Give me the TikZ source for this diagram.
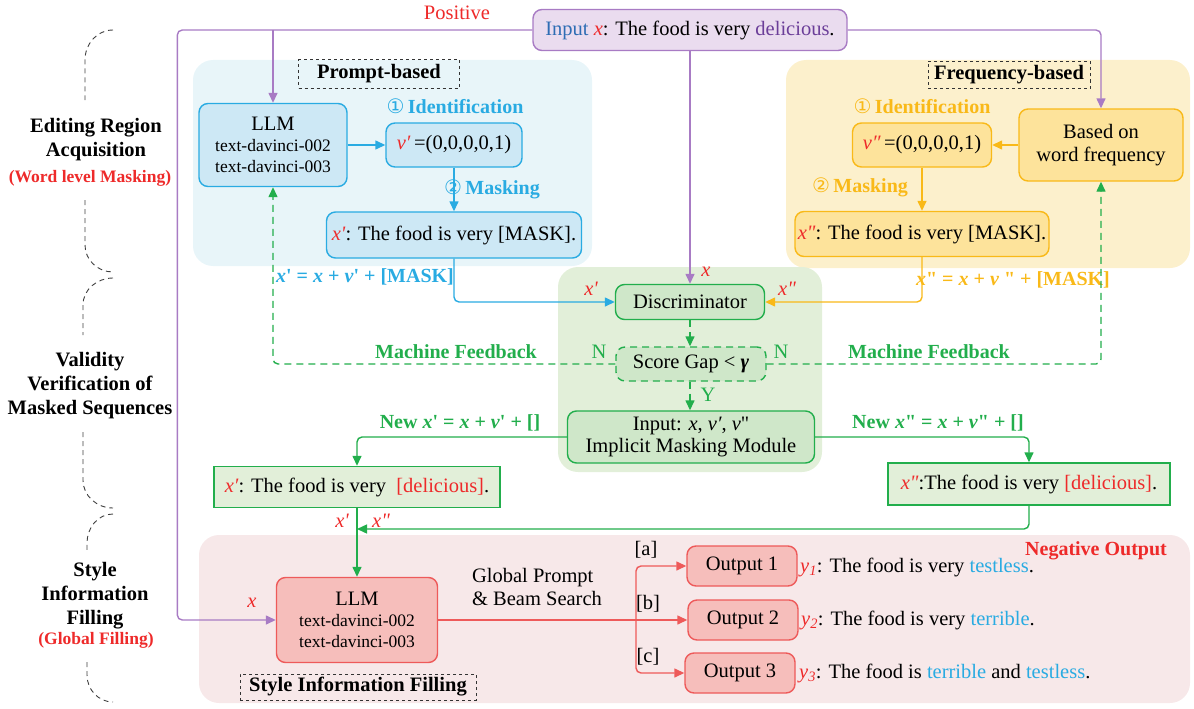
\documentclass[tikz,border=0pt]{standalone}
\usepackage{fontspec}
\setmainfont{Liberation Serif}
\newfontfamily\symfont{DejaVu Sans}
\usetikzlibrary{arrows.meta,positioning}

\definecolor{lpurple}{HTML}{A87BC4}
\definecolor{lpurplefill}{HTML}{EADCEF}
\definecolor{lblue}{HTML}{29ABE2}
\definecolor{lbluefill}{HTML}{CDE8F5}
\definecolor{lblueregion}{HTML}{E8F5F9}
\definecolor{lyellow}{HTML}{F9B918}
\definecolor{lyellowfill}{HTML}{FDE39B}
\definecolor{lyellowregion}{HTML}{FCF0CC}
\definecolor{lgreen}{HTML}{22AE4C}
\definecolor{lgreenfill}{HTML}{CFE7C9}
\definecolor{lgreenregion}{HTML}{E2EFD9}
\definecolor{lred}{HTML}{EE5A5A}
\definecolor{lredfill}{HTML}{F6BEBB}
\definecolor{lredregion}{HTML}{F7E8E9}
\definecolor{txtred}{HTML}{EE2A2A}
\definecolor{txtpurple}{HTML}{6B3E99}
\definecolor{txtblue}{HTML}{2E6DB4}

\newcommand{\xr}[1]{\textcolor{txtred}{\textit{#1}}}
\newcommand{\hl}[1]{\textcolor{lblue}{#1}}
\newcommand{\sq}{\textquotesingle}
\newcommand{\dq}{\textquotedbl}

\begin{document}
\begin{tikzpicture}[x=1pt,y=-1pt, font=\fontsize{20.5}{23}\selectfont,
			rbox/.style={rounded corners=9pt, line width=1.4pt, align=center, inner sep=0pt},
			sbox/.style={line width=1.4pt, align=center, inner sep=0pt},
			tagbox/.style={draw=black!80, dashed, line width=1pt, font=\fontsize{20.5}{23}\selectfont\bfseries, inner sep=0pt},
			conn/.style={line width=1.4pt, rounded corners=5pt},
			tip/.style={-{Triangle[length=10pt,width=9pt]}},
			fb/.style={conn, lgreen, dash pattern=on 7pt off 5pt},
			lbl/.style={font=\fontsize{20}{23}\selectfont\bfseries},
			var/.style={txtred, font=\fontsize{20.5}{23}\selectfont\itshape},
			side/.style={font=\fontsize{20.5}{24}\selectfont\bfseries, align=center},
			sidesub/.style={txtred, font=\fontsize{17.5}{20}\selectfont\bfseries},
			brace/.style={black!75, dash pattern=on 5pt off 4pt, line width=0.9pt}]
			\useasboundingbox (0,0) rectangle (1194,709);

			% regions
			\fill[lblueregion, rounded corners=20pt] (193,60) rectangle (592,266);
			\fill[lyellowregion, rounded corners=20pt] (786,60) rectangle (1190,268);
			\fill[lgreenregion, rounded corners=20pt] (558,267) rectangle (822,472);
			\fill[lredregion, rounded corners=20pt] (199,535) rectangle (1190,703);

			% side labels
			\node[side] (sideA) at (96,140) {Editing Region\\Acquisition};
			\node[sidesub] (sideAsub) at (90,178) {(Word level Masking)};
			\node[side] (sideB) at (90,386) {Validity\\Verification of\\Masked Sequences};
			\node[side] (sideC) at (95,596) {Style\\Information\\Filling};
			\node[sidesub] (sideCsub) at (96,640) {(Global Filling)};
			\draw[brace] (113,30) to[out=180,in=90] (85,60) -- (85,100);
			\draw[brace] (85,200) -- (85,245) to[out=-90,in=180] (113,272);
			\draw[brace] (113,278) to[out=180,in=90] (83,305) -- (83,335);
			\draw[brace] (83,432) -- (83,480) to[out=-90,in=180] (113,508);
			\draw[brace] (113,514) to[out=180,in=90] (87,543) -- (87,550);
			\draw[brace] (87,662) -- (87,675) to[out=-90,in=180] (113,702);

			% input
			\node[rbox, draw=lpurple, fill=lpurplefill, minimum width=314, minimum height=41] (input) at (690,30)
				{\textcolor{txtblue}{Input} \xr{x}: The food is very \textcolor{txtpurple}{delicious}.};
			\node[txtred] (pos) at (457,13) {Positive};

			% prompt-based
			\node[tagbox, minimum width=161, minimum height=28] (ptag) at (379,74) {Prompt-based};
			\node[rbox, draw=lblue, fill=lbluefill, minimum width=148, minimum height=83, font=\fontsize{17.5}{21}\selectfont] (llmA) at (273,145)
				{{\fontsize{20.5}{21}\selectfont LLM}\\text-davinci-002\\text-davinci-003};
			\node[lblue, lbl] (idA) at (455,106) {{\symfont\mdseries ①}\,Identification};
			\node[rbox, draw=lblue, fill=lbluefill, minimum width=136, minimum height=44] (vA) at (454,145) {\xr{v′}\,=(0,0,0,0,1)};
			\node[lblue, lbl] (maskA) at (492,189) {{\symfont\mdseries ②}\,Masking};
			\node[rbox, draw=lblue, fill=lbluefill, minimum width=255, minimum height=46] (xmA) at (454,235) {\xr{x\sq}: The food is very [MASK].};

			% frequency-based
			\node[tagbox, minimum width=162, minimum height=27] (ftag) at (1009,75) {Frequency-based};
			\node[rbox, draw=lyellow, fill=lyellowfill, minimum width=164, minimum height=72] (freq) at (1101,145) {Based on\\word frequency};
			\node[lyellow, lbl] (idB) at (922,106) {{\symfont\mdseries ①}\,Identification};
			\node[rbox, draw=lyellow, fill=lyellowfill, minimum width=139, minimum height=44] (vB) at (922,145) {\xr{v″}\,=(0,0,0,0,1)};
			\node[lyellow, lbl] (maskB) at (860,187) {{\symfont\mdseries ②}\,Masking};
			\node[rbox, draw=lyellow, fill=lyellowfill, minimum width=254, minimum height=45] (xmB) at (922,234) {\xr{x\dq}: The food is very [MASK].};

			% verification
			\node[rbox, draw=lgreen, fill=lgreenfill, minimum width=149, minimum height=35] (disc) at (690,302) {Discriminator};
			\node[rbox, draw=lgreen, fill=lgreenfill, dash pattern=on 7pt off 5pt, minimum width=150, minimum height=34] (gap) at (691,364)
				{Score Gap < \textbf{\textit{γ}}};
			\node[rbox, draw=lgreen, fill=lgreenfill, minimum width=247, minimum height=52, font=\fontsize{20.5}{22}\selectfont] (imm) at (691,437)
				{Input: \textit{x}, \textit{v′}, \textit{v}\dq\\Implicit Masking Module};
			\node[sbox, draw=lgreen, fill=lgreenregion, minimum width=286, minimum height=41] (xpA) at (357,487)
				{\xr{x′}: The food is very \ \textcolor{txtred}{[delicious]}.};
			\node[sbox, draw=lgreen, fill=lgreenregion, minimum width=282, minimum height=42] (xpB) at (1029,484)
				{\xr{x\dq}:The food is very \textcolor{txtred}{[delicious]}.};

			% filling
			\node[rbox, draw=lred, fill=lredfill, minimum width=161, minimum height=85, font=\fontsize{17.5}{21}\selectfont] (llmC) at (357,620)
				{{\fontsize{20.5}{21}\selectfont LLM}\\text-davinci-002\\text-davinci-003};
			\node[rbox, draw=lred, fill=lredfill, minimum width=110, minimum height=40] (out1) at (742,566) {Output 1};
			\node[rbox, draw=lred, fill=lredfill, minimum width=110, minimum height=40] (out2) at (743,620) {Output 2};
			\node[rbox, draw=lred, fill=lredfill, minimum width=110, minimum height=40] (out3) at (740,673) {Output 3};
			\node[anchor=west, inner sep=0pt] (y1) at (800,567) {\textcolor{txtred}{\textit{y\textsubscript{1}}}: The food is very \hl{testless}.};
			\node[anchor=west, inner sep=0pt] (y2) at (801,620) {\textcolor{txtred}{\textit{y\textsubscript{2}}}: The food is very \hl{terrible}.};
			\node[anchor=west, inner sep=0pt] (y3) at (799,673) {\textcolor{txtred}{\textit{y\textsubscript{3}}}: The food is \hl{terrible} and \hl{testless}.};
			\node[txtred, lbl] (neg) at (1096,551) {Negative Output};
			\node[align=left] (beam) at (537,587) {Global Prompt\\\& Beam Search};
			\node[tagbox, minimum width=236, minimum height=26] (stag) at (358,687) {Style Information Filling};
			\coordinate (split) at (636,620);
			\coordinate (join) at (357,529);

			% input connectors
			\draw[conn, lpurple, tip] (input.west) -- ++(-355,0) |- (llmC.west);
			\draw[conn, lpurple, tip] (input.west -| llmA.north) -- (llmA.north);
			\draw[conn, lpurple, tip] (input.south -| disc.north) -- (disc.north);
			\draw[conn, lpurple, tip] (input.east) -| (freq.north);

			% masking connectors
			\draw[conn, lblue, tip] (llmA.east) -- (vA.west);
			\draw[conn, lblue, tip] (vA.south) -- (vA.south |- xmA.north);
			\draw[conn, lblue, tip] (xmA.south) |- (disc.west);
			\draw[conn, lyellow, tip] (freq.west) -- (vB.east);
			\draw[conn, lyellow, tip] (vB.south) -- (vB.south |- xmB.north);
			\draw[conn, lyellow, tip] (xmB.south) |- (disc.east);
			\node[lblue, lbl] at (365,277) {\textit{x}\sq{} = \textit{x} + \textit{v}\sq{} + [MASK]};
			\node[lyellow, lbl] at (1013,280) {\textit{x}\dq{} = \textit{x} + \textit{v} \dq{} + [MASK]};
			\node[var] at (591,289) {x\sq};
			\node[var] at (787,289) {x\dq};
			\node[var] at (706,272) {x};

			% verification connectors
			\draw[fb, tip] (disc.south) -- (disc.south |- gap.north);
			\draw[fb, tip] (gap.west) -| (llmA.south);
			\draw[fb, tip] (gap.east) -| (freq.south);
			\draw[fb, tip] (disc.south |- gap.south) -- (disc.south |- imm.north);
			\node[lgreen] at (599,352) {N};
			\node[lgreen] at (781,352) {N};
			\node[lgreen] at (708,395) {Y};
			\node[lgreen, lbl] at (456,352) {Machine Feedback};
			\node[lgreen, lbl] at (929,352) {Machine Feedback};
			\draw[conn, lgreen, tip] (imm.west) -| (xpA.north);
			\draw[conn, lgreen, tip] (imm.east) -| (xpB.north);
			\node[lgreen, lbl] at (460,423) {New \textit{x}\sq{} = \textit{x} + \textit{v}\sq{} + []};
			\node[lgreen, lbl] at (938,423) {New \textit{x}\dq{} = \textit{x} + \textit{v}\dq{} + []};
			\draw[conn, lgreen, tip] (xpA.south) -- (llmC.north);
			\draw[conn, lgreen, tip] (xpB.south) |- (join);
			\node[var] at (342,521) {x\sq};
			\node[var] at (381,521) {x\dq};

			% output connectors
			\draw[conn, lred, tip] (llmC.east) -- (out2.west);
			\draw[conn, lred, tip] (split) |- (out1.west);
			\draw[conn, lred, tip] (split) |- (out3.west);
			\node at (646,550) {[a]};
			\node at (648,604) {[b]};
			\node at (648,657) {[c]};
			\node[var] at (252,603) {x};
		\end{tikzpicture}
\end{document}
